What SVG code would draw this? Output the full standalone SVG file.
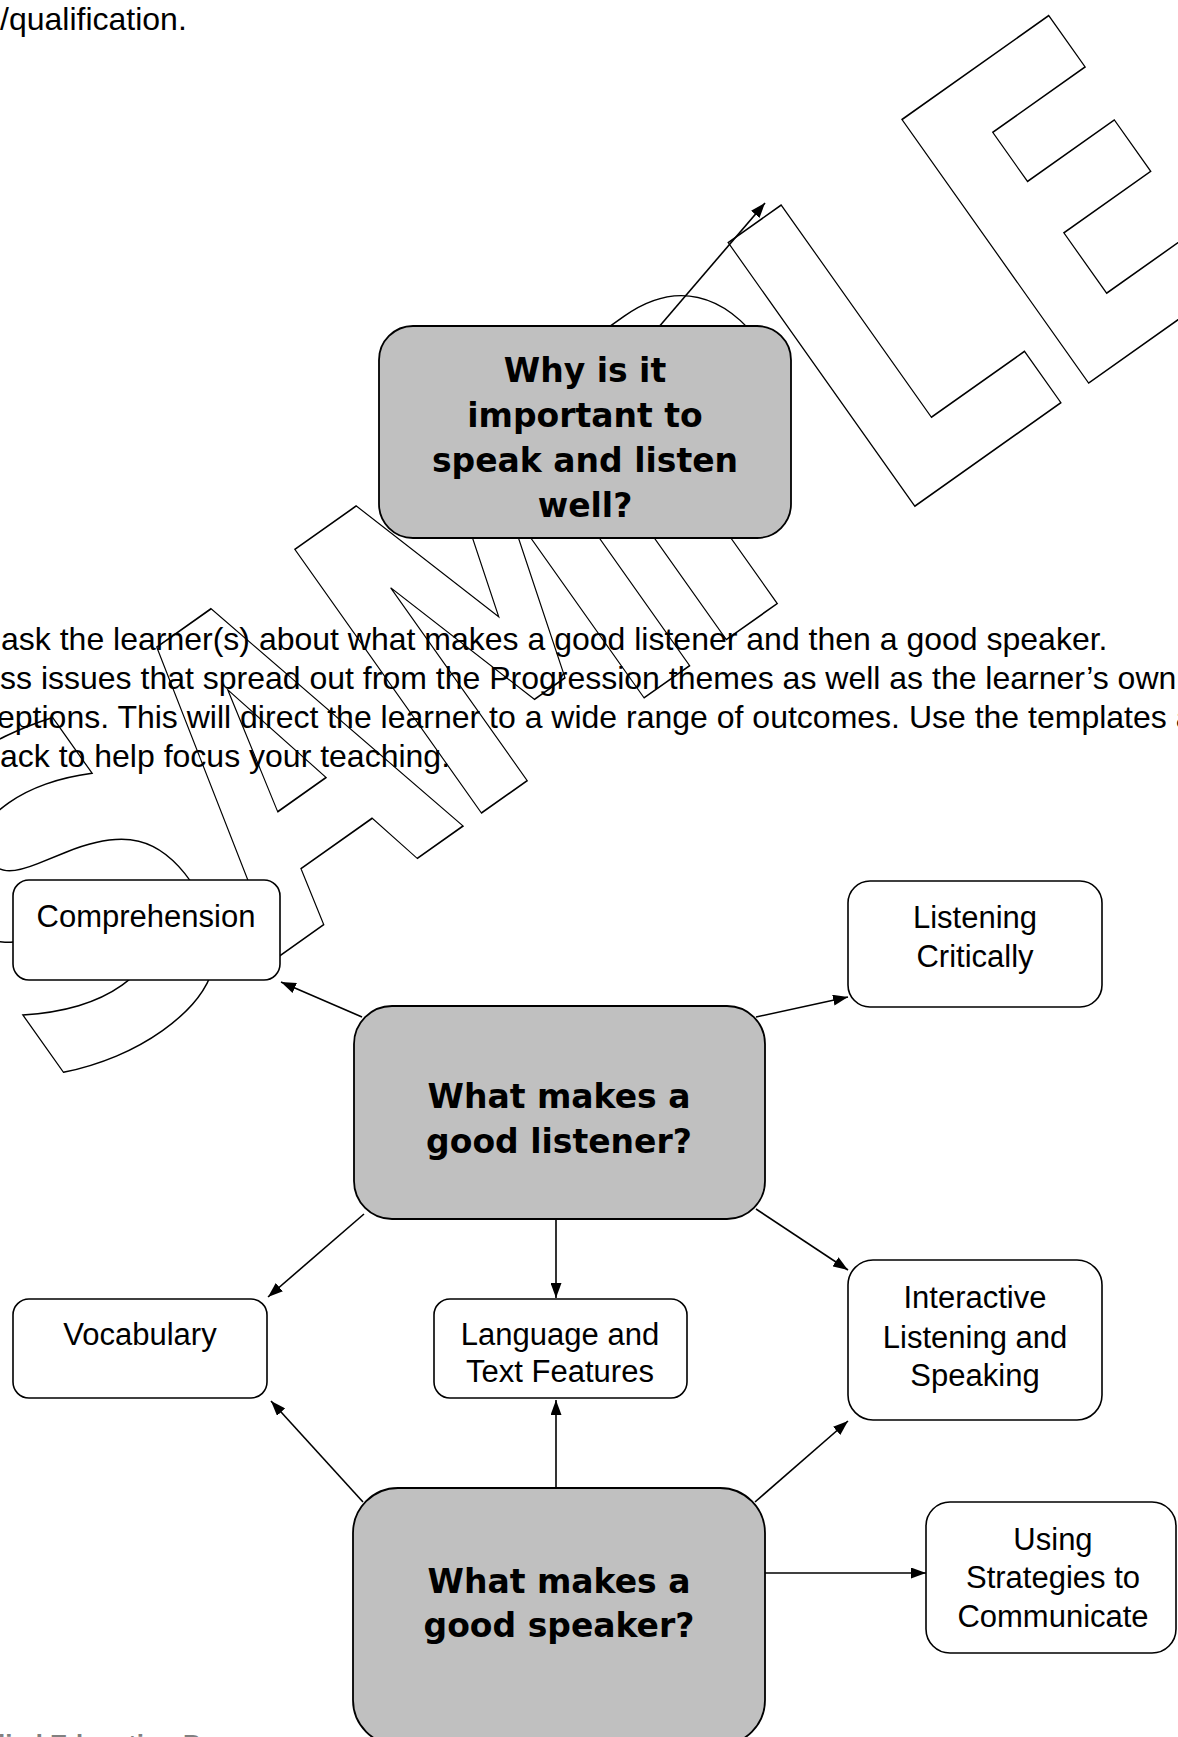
<svg xmlns="http://www.w3.org/2000/svg" width="1178" height="1737" viewBox="0 0 1178 1737">
<defs>
<marker id="arr" markerWidth="15" markerHeight="11" refX="15" refY="5.5" orient="auto" markerUnits="userSpaceOnUse">
<path d="M0,0 L15,5.5 L0,11 z" fill="#000"/>
</marker>
<style>
.body{font-family:"Liberation Sans",Arial,sans-serif;font-size:32px;fill:#000}
.lbl{font-family:"Liberation Sans",Arial,sans-serif;font-size:31px;fill:#000;text-anchor:middle}
.big{font-family:"DejaVu Sans",Verdana,sans-serif;font-weight:bold;font-size:33px;fill:#000;text-anchor:middle}
.gbox{fill:#C0C0C0;stroke:#000;stroke-width:1.8}
.wbox{fill:#fff;stroke:#000;stroke-width:1.6}
.con{stroke:#000;stroke-width:1.6;fill:none;marker-end:url(#arr)}
.wm{font-family:"DejaVu Sans",Verdana,sans-serif;font-weight:bold;font-size:443px;fill:none;stroke:#000;stroke-width:1.4}
</style>
</defs>
<rect width="1178" height="1737" fill="#fff"/>
<g id="body-text">
<text class="body" x="0" y="30">/qualification.</text>
<text class="body" x="1" y="650">ask the learner(s) about what makes a good listener and then a good speaker.</text>
<text class="body" x="0" y="689">ss issues that spread out from the Progression themes as well as the learner’s own</text>
<text class="body" x="-3" y="728">eptions. This will direct the learner to a wide range of outcomes. Use the templates a</text>
<text class="body" x="0" y="767">ack to help focus your teaching.</text>
<text x="-2" y="1753" font-family="Liberation Sans,Arial,sans-serif" font-weight="bold" font-size="26" fill="#808080">lied Education P</text>
</g>
<g id="watermark" transform="translate(915,506) rotate(-35.3)">
<text class="wm" vector-effect="non-scaling-stroke" transform="translate(-1027,-13) scale(0.85,1)" x="-29" y="0">S</text>
<text class="wm" vector-effect="non-scaling-stroke" transform="translate(-780,0) scale(0.67,1)" x="-3" y="0">A</text>
<text class="wm" vector-effect="non-scaling-stroke" transform="translate(-531,0) scale(0.71,1)" x="-41" y="0">M</text>
<text class="wm" vector-effect="non-scaling-stroke" transform="translate(-231,0) scale(0.75,1)" x="-41" y="0">P</text>
<text class="wm" vector-effect="non-scaling-stroke" transform="translate(0,0) scale(0.78,1)" x="-41" y="0">L</text>
<text class="wm" vector-effect="non-scaling-stroke" transform="translate(213,0) scale(0.8,1)" x="-41" y="0">E</text>
</g>
<g id="connectors">
<line class="con" x1="658" y1="328" x2="765" y2="203"/>
<line class="con" x1="362" y1="1017" x2="281" y2="982"/>
<line class="con" x1="756" y1="1017" x2="848" y2="997"/>
<line class="con" x1="364" y1="1214" x2="268" y2="1297"/>
<line class="con" x1="556" y1="1219" x2="556" y2="1298"/>
<line class="con" x1="756" y1="1209" x2="848" y2="1270"/>
<line class="con" x1="363" y1="1502" x2="271" y2="1401"/>
<line class="con" x1="556" y1="1488" x2="556" y2="1400"/>
<line class="con" x1="755" y1="1502" x2="848" y2="1421"/>
<line class="con" x1="765" y1="1573" x2="926" y2="1573"/>
</g>
<g id="why">
<rect class="gbox" x="379" y="326" width="412" height="212" rx="34"/>
<text class="big" x="585" y="382">Why is it</text>
<text class="big" x="585" y="427">important to</text>
<text class="big" x="585" y="472">speak and listen</text>
<text class="big" x="585" y="517">well?</text>
</g>
<g id="comprehension">
<rect class="wbox" x="13" y="880" width="267" height="100" rx="16"/>
<text class="lbl" x="146" y="927">Comprehension</text>
</g>
<g id="listening-critically">
<rect class="wbox" x="848" y="881" width="254" height="126" rx="22"/>
<text class="lbl" x="975" y="928">Listening</text>
<text class="lbl" x="975" y="967">Critically</text>
</g>
<g id="listener">
<rect class="gbox" x="354" y="1006" width="411" height="213" rx="38"/>
<text class="big" x="559" y="1108">What makes a</text>
<text class="big" x="559" y="1153">good listener?</text>
</g>
<g id="vocabulary">
<rect class="wbox" x="13" y="1299" width="254" height="99" rx="16"/>
<text class="lbl" x="140" y="1345">Vocabulary</text>
</g>
<g id="language">
<rect class="wbox" x="434" y="1299" width="253" height="99" rx="16"/>
<text class="lbl" x="560" y="1345">Language and</text>
<text class="lbl" x="560" y="1382">Text Features</text>
</g>
<g id="interactive">
<rect class="wbox" x="848" y="1260" width="254" height="160" rx="25"/>
<text class="lbl" x="975" y="1308">Interactive</text>
<text class="lbl" x="975" y="1348">Listening and</text>
<text class="lbl" x="975" y="1386">Speaking</text>
</g>
<g id="speaker">
<rect class="gbox" x="353" y="1488" width="412" height="257" rx="45"/>
<text class="big" x="559" y="1593">What makes a</text>
<text class="big" x="559" y="1637">good speaker?</text>
</g>
<g id="strategies">
<rect class="wbox" x="926" y="1502" width="250" height="151" rx="24"/>
<text class="lbl" x="1053" y="1550">Using</text>
<text class="lbl" x="1053" y="1588">Strategies to</text>
<text class="lbl" x="1053" y="1627">Communicate</text>
</g>
</svg>
